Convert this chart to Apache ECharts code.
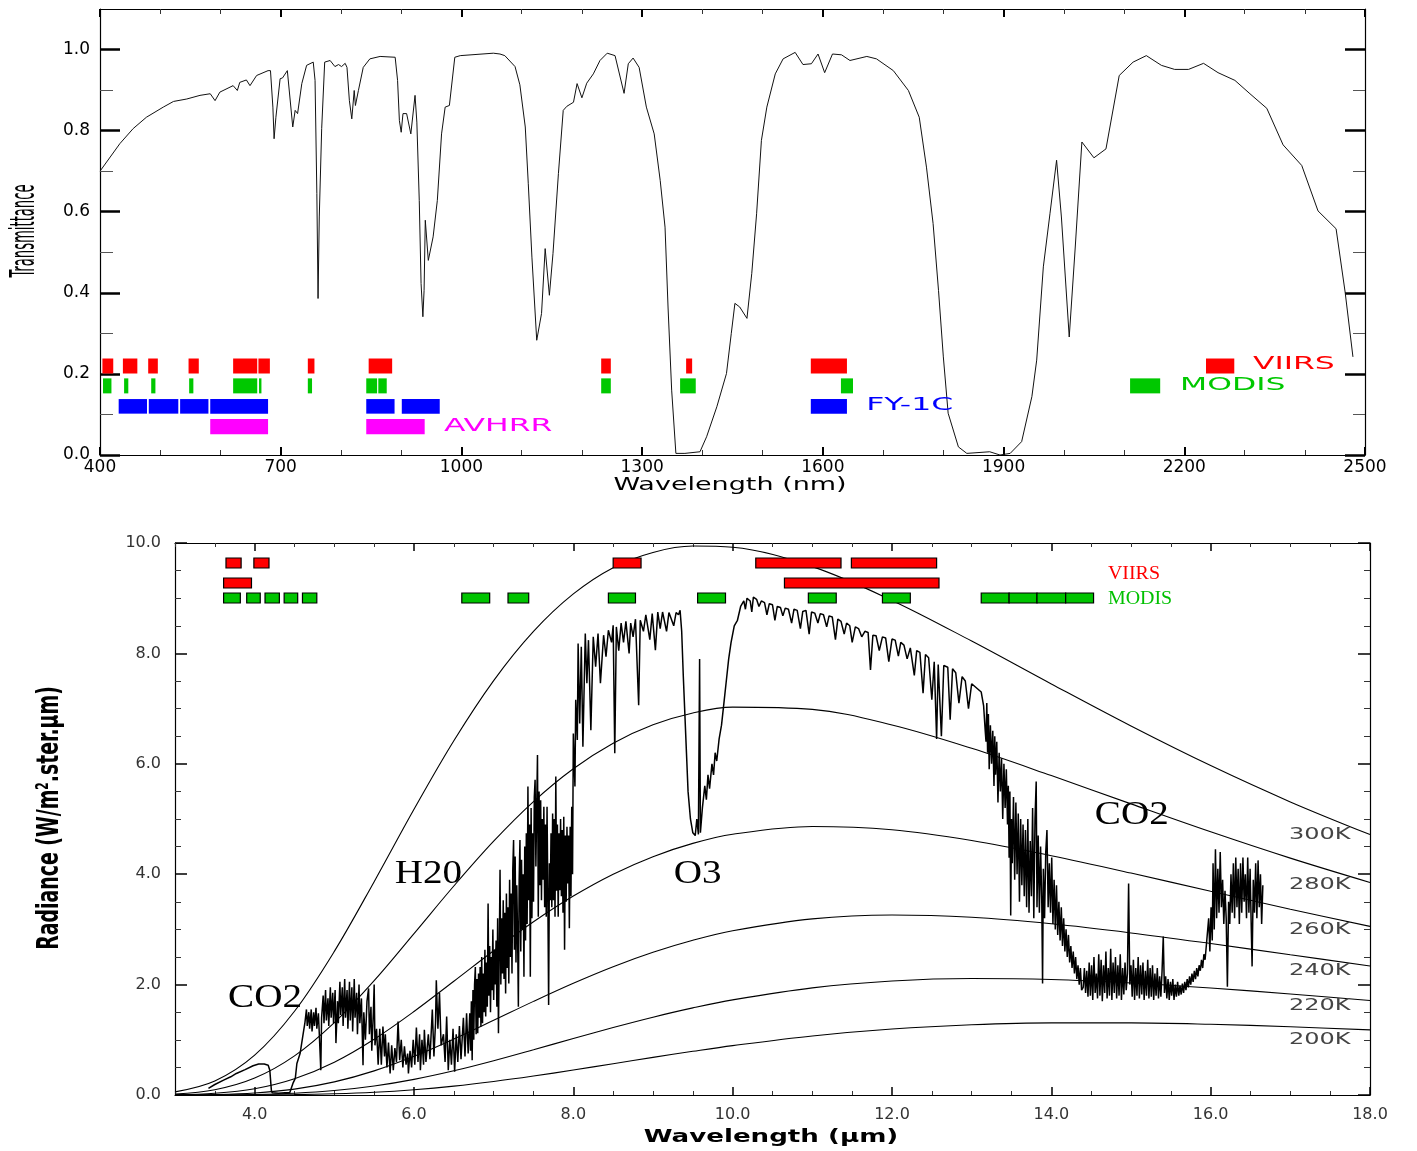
<!DOCTYPE html>
<html><head><meta charset="utf-8">
<script src="https://cdn.jsdelivr.net/npm/echarts@6/dist/echarts.min.js"></script>
<style>html,body{margin:0;padding:0;height:100%;overflow:hidden;background:#fff}#c{width:100%;height:100%}</style>
</head><body><div id="c"></div>
<script>
// ---------------- DATA ----------------
// Top panel: atmospheric transmittance vs wavelength (nm)
const transmittance = [[400,0.700],[433,0.768],[455,0.805],[477,0.833],[505,0.858],[522,0.872],[544,0.878],[566,0.887],[583,0.891],[591,0.874],[599,0.895],[621,0.911],[628,0.899],[632,0.919],[643,0.925],[649,0.911],[660,0.936],[679,0.948],[683,0.948],[687,0.858],[689,0.780],[692,0.833],[699,0.928],[703,0.930],[711,0.948],[714,0.944],[720,0.809],[724,0.850],[728,0.842],[735,0.916],[743,0.961],[754,0.969],[757,0.924],[760,0.645],[762,0.386],[764,0.587],[768,0.805],[773,0.969],[782,0.973],[790,0.958],[796,0.963],[801,0.958],[807,0.966],[810,0.956],[814,0.874],[818,0.829],[822,0.899],[824,0.862],[829,0.899],[837,0.956],[848,0.977],[865,0.983],[890,0.981],[894,0.924],[897,0.825],[900,0.796],[903,0.842],[909,0.842],[916,0.792],[923,0.887],[926,0.821],[930,0.628],[933,0.423],[936,0.341],[938,0.406],[940,0.579],[945,0.480],[953,0.538],[960,0.628],[967,0.792],[973,0.858],[980,0.862],[989,0.981],[998,0.985],[1053,0.991],[1064,0.989],[1072,0.985],[1089,0.958],[1097,0.913],[1106,0.809],[1111,0.669],[1117,0.488],[1125,0.283],[1133,0.349],[1139,0.509],[1146,0.394],[1152,0.497],[1161,0.694],[1169,0.850],[1175,0.860],[1186,0.870],[1192,0.916],[1200,0.881],[1208,0.917],[1219,0.940],[1230,0.973],[1242,0.991],[1255,0.985],[1270,0.892],[1277,0.965],[1285,0.979],[1295,0.956],[1307,0.858],[1320,0.792],[1330,0.677],[1338,0.562],[1343,0.365],[1349,0.160],[1356,0.004],[1371,0.004],[1396,0.008],[1407,0.045],[1424,0.119],[1440,0.201],[1448,0.300],[1454,0.374],[1462,0.365],[1474,0.337],[1482,0.448],[1490,0.595],[1498,0.776],[1507,0.858],[1521,0.940],[1534,0.977],[1554,0.993],[1567,0.963],[1581,0.965],[1592,0.989],[1603,0.943],[1616,0.989],[1631,0.987],[1645,0.973],[1673,0.983],[1689,0.977],[1717,0.948],[1742,0.899],[1760,0.833],[1772,0.710],[1783,0.571],[1792,0.406],[1800,0.242],[1808,0.103],[1825,0.020],[1839,0.004],[1877,0.008],[1894,0.000],[1911,0.004],[1930,0.033],[1947,0.144],[1955,0.234],[1966,0.464],[1977,0.595],[1988,0.727],[1996,0.587],[2009,0.291],[2019,0.513],[2030,0.772],[2050,0.733],[2070,0.755],[2092,0.936],[2115,0.969],[2137,0.985],[2162,0.961],[2184,0.951],[2207,0.951],[2232,0.966],[2256,0.943],[2284,0.924],[2309,0.891],[2337,0.855],[2364,0.765],[2395,0.714],[2422,0.602],[2452,0.558],[2467,0.402],[2480,0.242]];

// Top panel sensor bands (nm): [start, end]
const viirsBandsNm = [[404,422],[438,462],[480,496],[547,564],[621,661],[663,682],[745,756],[846,885],[1232,1248],[1373,1383],[1580,1640],[2236,2283]];
const modisBandsNm = [[405,419],[440,447],[485,492],[548,555],[621,661],[664,668],[745,752],[842,860],[862,876],[1232,1248],[1363,1389],[1630,1650],[2110,2160]];
const fy1cBandsNm  = [[431,478],[481,530],[533,580],[583,679],[842,889],[901,964],[1580,1640]];
const avhrrBandsNm = [[583,679],[842,939]];

// Bottom panel sensor bands (micrometres)
const viirsBandsUmA = [[3.64,3.83],[3.99,4.18],[8.50,8.85],[10.29,11.36],[11.49,12.56]];
const viirsBandsUmB = [[3.61,3.96],[10.65,12.59]];
const modisBandsUm  = [[3.61,3.82],[3.90,4.07],[4.13,4.31],[4.37,4.54],[4.60,4.78],[6.60,6.95],[7.18,7.44],[8.44,8.78],[9.56,9.91],[10.95,11.30],[11.88,12.23],[13.12,13.47],[13.47,13.82],[13.82,14.18],[14.18,14.53]];

// Blackbody reference curves
const planckWl = [3,3.5,4,4.5,5,5.5,6,6.5,7,7.5,8,8.5,9,9.5,10,11,12,13,14,15,16,17,18];
const bb300 = [0.056,0.254,0.722,1.517,2.602,3.865,5.176,6.418,7.508,8.399,9.078,9.553,9.829,9.945,9.922,9.572,8.960,8.223,7.446,6.684,5.967,5.310,4.718];
const bb280 = [0.018,0.095,0.307,0.709,1.312,2.072,2.924,3.786,4.598,5.315,5.910,6.373,6.706,6.920,7.027,6.986,6.703,6.280,5.787,5.274,4.768,4.291,3.850];
const bb260 = [0.005,0.031,0.114,0.295,0.595,1.011,1.513,2.061,2.614,3.138,3.604,4.000,4.318,4.558,4.724,4.864,4.804,4.610,4.335,4.021,3.691,3.365,3.055];
const bb240 = [0.001,0.008,0.036,0.106,0.237,0.437,0.701,1.014,1.353,1.696,2.024,2.324,2.585,2.802,2.975,3.191,3.261,3.219,3.101,2.936,2.744,2.541,2.338];
const bb220 = [0.000,0.002,0.009,0.032,0.080,0.162,0.283,0.438,0.621,0.820,1.024,1.223,1.410,1.578,1.723,1.941,2.065,2.110,2.092,2.030,1.939,1.829,1.711];
const bb200 = [0.000,0.000,0.002,0.007,0.022,0.049,0.095,0.160,0.244,0.343,0.452,0.567,0.682,0.792,0.895,1.070,1.195,1.272,1.307,1.307,1.281,1.236,1.180];
const tempNames = ['300K','280K','260K','240K','220K','200K'];

// Measured radiance spectrum [wavelength um, radiance]
const radiance = [[3.42,0.12],[3.50,0.19],[3.61,0.27],[3.70,0.33],[3.77,0.39],[3.88,0.46],[3.98,0.53],[4.05,0.56],[4.12,0.56],[4.17,0.54],[4.19,0.45],[4.21,0.08],[4.22,0.04],[4.30,0.03],[4.38,0.04],[4.44,0.04],[4.48,0.21],
[4.51,0.30],[4.53,0.57],[4.57,0.75],[4.61,1.12],[4.63,1.30],[4.65,1.55],[4.66,1.25],[4.68,1.50],[4.69,1.20],[4.71,1.55],[4.72,1.15],[4.74,1.50],[4.75,1.25],[4.77,1.58],[4.78,1.20],[4.80,1.48],[4.81,1.15],[4.83,0.45],[4.84,1.40],[4.86,1.80],[4.87,1.30],[4.89,1.90],[4.90,1.35],[4.92,1.75],[4.93,1.25],[4.95,1.95],[4.96,1.40],[4.98,1.85],[4.99,1.30],[5.01,1.90],[5.02,0.94],[5.04,1.70],[5.05,1.30],[5.07,2.05],[5.08,1.45],[5.10,1.95],[5.11,1.25],[5.13,2.10],[5.14,1.40],[5.16,1.90],[5.17,1.20],[5.19,2.05],[5.20,1.35],[5.22,1.95],[5.23,1.15],[5.25,2.10],[5.26,1.40],[5.28,1.85],[5.29,1.10],[5.31,2.00],[5.32,1.30],[5.34,1.75],[5.36,0.54],[5.37,1.50],[5.39,1.00],[5.41,1.70],[5.43,1.93],[5.44,1.10],[5.46,1.60],[5.47,0.80],[5.49,1.50],[5.50,2.00],[5.51,0.90],[5.53,1.20],[5.55,0.55],
[5.57,1.20],[5.59,0.55],[5.61,1.24],[5.63,0.70],[5.64,1.10],[5.66,0.50],[5.68,0.95],[5.70,0.39],[5.72,0.90],[5.74,0.45],[5.76,0.85],[5.78,0.60],[5.80,1.33],[5.82,0.63],[5.84,1.00],[5.86,0.50],[5.88,0.88],[5.90,0.55],[5.92,0.75],[5.93,0.39],[5.95,0.80],[5.97,0.50],[5.99,1.00],[6.01,0.55],[6.03,1.22],[6.05,0.60],[6.07,1.10],[6.08,0.45],[6.10,1.00],[6.12,0.55],[6.13,1.18],[6.15,0.60],[6.18,1.10],[6.20,0.65],[6.23,1.55],[6.25,0.70],[6.27,1.30],[6.28,2.08],[6.30,1.20],[6.32,1.85],[6.34,0.90],[6.37,1.10],[6.39,0.60],[6.41,1.42],[6.43,0.45],[6.45,1.00],[6.47,0.55],[6.49,1.20],[6.51,0.42],[6.53,1.10],[6.55,0.60],[6.57,1.25],[6.59,0.65],[6.62,1.40],[6.64,0.70],[6.66,1.48],[6.68,0.75],
[6.70,1.48],[6.71,0.80],[6.72,1.70],[6.73,0.63],[6.74,1.90],[6.75,1.00],[6.76,2.00],[6.77,2.32],[6.78,1.10],[6.79,2.10],[6.80,1.12],[6.81,2.20],[6.82,1.40],[6.83,2.32],[6.84,1.24],[6.85,2.50],[6.86,1.30],[6.87,2.20],[6.88,1.50],[6.89,2.63],[6.90,1.42],[6.91,2.40],[6.92,1.60],[6.93,3.47],[6.94,1.80],[6.95,2.70],[6.96,1.50],[6.97,2.50],[6.98,1.90],[6.99,3.00],[7.00,1.72],[7.01,2.63],[7.02,2.00],[7.03,2.80],[7.04,1.60],[7.05,3.20],[7.06,1.12],[7.07,2.60],[7.08,4.08],[7.09,2.00],[7.10,3.20],[7.11,2.20],[7.12,3.53],[7.13,2.10],[7.14,3.30],[7.15,1.84],[7.16,3.65],[7.17,2.30],[7.18,3.40],[7.19,2.02],[7.20,3.90],[7.21,2.50],[7.22,3.65],[7.23,2.20],[7.24,4.10],[7.25,4.62],[7.26,2.63],[7.27,4.32],[7.28,2.40],[7.29,3.80],[7.30,2.93],[7.31,1.60],[7.32,3.90],[7.33,4.62],[7.34,2.60],[7.35,4.26],[7.36,3.00],[7.37,4.00],[7.38,2.14],[7.39,4.50],[7.40,2.80],[7.41,4.74],[7.42,3.10],[7.43,5.59],[7.44,3.53],[7.45,4.90],[7.46,2.14],[7.47,5.20],[7.48,3.20],[7.49,4.74],[7.50,3.50],[7.51,5.40],[7.52,5.71],[7.53,4.14],[7.54,5.20],[7.55,6.16],[7.56,3.23],[7.57,5.50],[7.58,3.80],[7.59,5.34],[7.60,3.53],[7.61,5.00],[7.62,3.90],[7.63,5.22],[7.64,3.40],[7.65,4.90],[7.66,3.23],[7.67,5.22],[7.68,3.60],[7.69,1.63],[7.70,4.20],[7.71,3.53],[7.72,4.74],[7.73,3.40],[7.74,5.10],[7.75,3.53],[7.76,5.00],[7.77,3.23],[7.78,5.77],[7.79,3.70],[7.80,4.90],[7.81,3.23],[7.82,4.74],[7.83,3.71],[7.84,5.00],[7.85,3.60],[7.86,4.80],[7.87,3.30],[7.88,5.04],[7.89,2.63],[7.90,4.70],[7.91,3.50],[7.92,4.86],[7.93,3.83],[7.94,4.70],[7.95,3.02],[7.96,4.86],[7.97,3.60],[7.98,5.22],[7.99,4.00],
[8.00,6.55],[8.02,5.59],[8.03,7.16],[8.05,6.43],[8.06,8.18],[8.08,6.73],[8.10,8.12],[8.12,6.31],[8.15,8.36],[8.17,7.46],[8.19,8.24],[8.22,6.61],[8.25,8.30],[8.28,7.76],[8.31,8.36],[8.34,7.46],[8.38,8.33],[8.41,7.94],[8.44,8.42],[8.48,8.20],[8.50,8.51],[8.52,6.19],[8.54,8.48],[8.57,8.05],[8.60,8.55],[8.63,8.20],[8.66,8.58],[8.70,8.00],[8.72,8.55],[8.75,8.30],[8.78,8.62],[8.82,7.06],[8.84,8.60],[8.88,8.40],[8.91,8.70],[8.96,8.25],[8.99,8.72],[9.03,8.06],[9.06,8.75],[9.09,8.45],[9.12,8.75],[9.17,8.40],[9.20,8.74],[9.26,8.50],[9.29,8.74],[9.32,8.70],
[9.34,8.78],[9.36,8.40],[9.38,7.60],[9.40,6.90],[9.42,6.20],[9.44,5.50],[9.47,5.00],[9.50,4.75],[9.53,4.70],[9.55,5.00],[9.57,4.72],[9.585,7.90],[9.595,4.75],[9.62,5.20],[9.65,5.60],[9.67,5.35],[9.69,5.80],[9.71,5.55],[9.74,6.00],[9.76,5.80],[9.78,6.20],[9.80,6.05],[9.83,6.45],[9.86,6.70],[9.89,7.10],[9.92,7.50],[9.95,7.90],[9.98,8.20],[10.02,8.50],[10.06,8.60],
[10.10,8.85],[10.14,8.95],[10.16,8.80],[10.18,9.00],[10.22,8.95],[10.24,8.75],[10.26,9.02],[10.30,8.98],[10.33,8.85],[10.36,8.95],[10.40,8.92],[10.43,8.70],[10.46,8.90],[10.50,8.88],[10.53,8.60],[10.56,8.85],[10.60,8.83],[10.63,8.68],[10.66,8.82],[10.70,8.80],[10.74,8.55],[10.77,8.80],[10.81,8.78],[10.85,8.45],[10.88,8.76],[10.92,8.78],[10.96,8.35],[10.99,8.75],[11.03,8.73],[11.07,8.55],[11.10,8.72],[11.14,8.70],[11.18,8.48],[11.21,8.68],[11.25,8.66],[11.29,8.25],[11.32,8.62],[11.36,8.58],[11.40,8.35],[11.43,8.55],[11.47,8.50],[11.50,8.20],[11.54,8.48],[11.58,8.45],[11.62,8.30],[11.66,8.40],[11.70,8.38],[11.73,7.70],[11.76,8.33],[11.80,8.32],[11.84,8.05],[11.88,8.30],[11.92,8.28],[11.96,7.85],[12.00,8.26],[12.04,8.24],[12.08,7.95],[12.11,8.20],[12.15,8.15],[12.19,7.90],[12.23,8.10],[12.28,7.60],[12.31,8.05],[12.35,8.02],[12.39,7.28],[12.42,7.98],[12.46,7.92],[12.50,7.16],[12.53,7.85],[12.56,6.45],[12.58,7.80],[12.62,6.50],[12.65,7.78],[12.70,7.75],[12.73,6.80],[12.76,7.72],[12.80,7.65],[12.84,7.10],[12.88,7.58],[12.92,7.50],[12.96,7.00],[13.00,7.45],[13.04,7.40],[13.08,7.35],[13.12,7.30],
[13.15,7.05],[13.17,6.60],[13.18,6.40],[13.19,7.10],[13.20,6.20],[13.21,6.90],[13.22,5.90],[13.235,6.70],[13.25,6.00],[13.265,6.60],[13.28,5.60],[13.29,6.50],[13.30,5.80],[13.315,6.40],[13.33,5.30],[13.345,6.20],[13.36,5.50],[13.375,6.10],[13.39,5.00],[13.405,6.00],[13.42,5.20],[13.435,5.90],[13.45,4.90],[13.46,5.60],[13.47,4.30],[13.48,5.50],[13.49,3.25],[13.50,5.00],[13.51,4.20],[13.525,5.40],[13.54,3.90],[13.555,5.30],[13.57,4.00],[13.585,5.10],[13.60,3.50],[13.615,5.00],[13.63,3.80],[13.645,4.90],[13.66,3.60],[13.675,4.80],[13.69,3.40],[13.705,5.00],[13.72,3.30],[13.735,4.60],[13.75,3.60],[13.765,5.20],[13.78,3.20],[13.795,5.00],[13.81,5.68],[13.82,3.40],[13.835,4.70],[13.85,3.30],[13.865,4.50],[13.88,3.50],[13.89,2.02],[13.90,4.10],[13.915,3.20],[13.93,4.40],[13.945,4.80],[13.96,3.40],[13.975,4.20],[13.99,3.30],[14.005,4.30],[14.02,3.10],[14.035,3.90],[14.05,3.00],[14.065,3.80],[14.08,2.90],[14.095,3.50],[14.11,2.80],[14.125,3.40],[14.14,2.70],[14.155,3.20],[14.17,2.60],[14.185,3.00],[14.20,2.50],[14.215,2.90],[14.23,2.40],[14.245,2.70],[14.26,2.30],[14.275,2.60],[14.29,2.20],[14.305,2.50],[14.32,2.10],[14.335,2.35],[14.35,2.00],[14.365,2.30],[14.38,1.90],
[14.400,1.95],[14.415,2.30],[14.430,1.85],[14.445,2.25],[14.460,1.78],[14.475,2.40],[14.490,1.80],[14.505,2.35],[14.520,1.72],[14.535,2.50],[14.550,1.85],[14.565,2.20],[14.580,1.75],[14.595,2.55],[14.610,1.80],[14.625,2.45],[14.640,1.70],[14.655,2.35],[14.670,1.85],[14.685,2.60],[14.700,1.75],[14.715,2.30],[14.730,1.80],[14.745,2.65],[14.760,1.72],[14.775,2.40],[14.790,1.85],[14.805,2.50],[14.820,1.75],[14.835,2.35],[14.850,1.80],[14.865,2.55],[14.880,1.72],[14.895,2.30],[14.910,1.82],[14.925,2.40],[14.940,1.90],[14.955,2.20],[14.970,3.83],[14.985,2.00],[15.000,2.35],[15.015,1.78],[15.030,2.45],[15.045,1.72],[15.060,2.30],[15.075,1.80],[15.090,2.50],[15.105,1.75],[15.120,2.35],[15.135,1.82],[15.150,2.40],[15.165,1.72],[15.180,2.25],[15.195,1.80],[15.210,2.45],[15.225,1.75],[15.240,2.30],[15.255,1.78],[15.270,2.35],[15.285,1.72],[15.300,2.20],[15.315,1.80],[15.330,2.30],[15.345,1.75],[15.360,2.15],[15.375,1.78],[15.390,2.25],[15.405,2.87],[15.420,1.85],[15.435,2.15],[15.450,1.75],[15.465,2.10],[15.480,1.72],[15.495,2.05],[15.510,1.80],[15.525,2.10],[15.540,1.72],[15.555,2.00],[15.570,1.78],[15.585,2.05],[15.600,1.80],[15.615,1.98],[15.630,1.82],[15.645,2.02],[15.660,1.85],[15.675,2.05],[15.690,1.90],[15.705,2.10],[15.720,1.95],[15.735,2.15],[15.750,2.00],[15.765,2.20],[15.780,2.05],[15.795,2.25],[15.810,2.10],[15.825,2.30],[15.840,2.15],[15.855,2.35],[15.870,2.25],[15.885,2.45],[15.900,2.30],[15.915,2.55],[15.930,2.45],[15.945,2.70],
[15.96,2.70],[15.975,3.20],[15.99,2.60],[16.005,3.40],[16.02,2.80],[16.03,4.20],[16.045,3.00],[16.06,4.45],[16.075,3.20],[16.09,4.10],[16.105,3.30],[16.12,4.40],[16.135,3.40],[16.15,3.90],[16.165,3.10],[16.18,3.70],[16.195,3.20],[16.21,1.96],[16.225,3.50],[16.24,3.10],[16.255,4.00],[16.27,3.30],[16.285,4.20],[16.30,3.20],[16.315,4.30],[16.33,3.40],[16.345,4.10],[16.36,3.10],[16.375,4.20],[16.39,3.30],[16.405,4.30],[16.42,3.50],[16.435,4.00],[16.45,3.20],[16.465,4.30],[16.48,3.30],[16.495,4.10],[16.51,3.00],[16.52,2.33],[16.535,3.90],[16.55,3.30],[16.565,4.20],[16.58,3.20],[16.595,4.25],[16.61,3.40],[16.625,4.00],[16.64,3.10],[16.655,3.80]];

// Tick labels
const topXLabels = [400,700,1000,1300,1600,1900,2200,2500];
const topYLabels = [0.0,0.2,0.4,0.6,0.8,1.0];
const botXLabels = [4,6,8,10,12,14,16,18];
const botYLabels = [0,2,4,6,8,10];

// ---------------- CHART ----------------
const SANS = 'DejaVu Sans';
const SERIF = 'Liberation Serif';
const NARROW = "'Liberation Sans Narrow','DejaVu Sans Condensed','Liberation Sans',Arial,sans-serif";

function stepVals(a, b, s, skip) {
  const out = [];
  for (let i = 0; a + i * s <= b + 1e-9; i++) {
    const v = +(a + i * s).toFixed(4);
    if (!skip || !skip.some(k => Math.abs(k - v) < 1e-6)) out.push(v);
  }
  return out;
}

function axis(grid, position, min, max, ticks, len, width, color, extra) {
  return Object.assign({
    type: 'value', gridIndex: grid, position: position, min: min, max: max,
    axisLine: {show: false, onZero: false, lineStyle: {color: '#000', width: 1}},
    axisTick: {show: true, inside: true, length: len, customValues: ticks, lineStyle: {color: color, width: width}},
    axisLabel: {show: false},
    splitLine: {show: false}
  }, extra || {});
}
const LINE = {show: true, onZero: false, lineStyle: {color: '#000', width: 1.2}};

const topXMinor = stepVals(400, 2500, 100, topXLabels);
const topYMinor = stepVals(0.1, 1.0, 0.2);
const botXMinor = stepVals(3, 18, 0.5, botXLabels);
const botYMinor = stepVals(0, 10, 0.5, botYLabels);

const xAxes = [
  axis(0, 'bottom', 400, 2500, topXLabels, 8, 2, '#000', {
    axisLine: LINE,
    axisLabel: {show: true, customValues: topXLabels, margin: 4, fontFamily: SANS, fontSize: 17, color: '#000',
      formatter: v => String(Math.round(v))}
  }),
  axis(0, 'bottom', 400, 2500, topXMinor, 5, 1, '#333'),
  axis(0, 'top', 400, 2500, topXLabels, 8, 2, '#000', {axisLine: LINE}),
  axis(0, 'top', 400, 2500, topXMinor, 5, 1, '#333'),
  axis(1, 'bottom', 3, 18, botXLabels, 8, 1.5, '#000', {
    axisLine: LINE,
    axisLabel: {show: true, customValues: botXLabels, margin: 12, fontFamily: SANS, fontSize: 16, color: '#333',
      formatter: v => v.toFixed(1)}
  }),
  axis(1, 'bottom', 3, 18, botXMinor, 4, 1, '#333'),
  axis(1, 'top', 3, 18, botXLabels, 8, 1.5, '#000', {axisLine: LINE}),
  axis(1, 'top', 3, 18, botXMinor, 4, 1, '#333')
];

const yAxes = [
  axis(0, 'left', 0, 1.1, topYLabels, 20, 2.5, '#000', {
    axisLine: LINE,
    axisLabel: {show: true, customValues: topYLabels, margin: 10, fontFamily: SANS, fontSize: 17, color: '#000',
      formatter: v => v.toFixed(1)}
  }),
  axis(0, 'left', 0, 1.1, topYMinor, 13, 1, '#555'),
  axis(0, 'right', 0, 1.1, topYLabels, 20, 2.5, '#000', {axisLine: LINE}),
  axis(0, 'right', 0, 1.1, topYMinor, 12, 1, '#555'),
  axis(1, 'left', 0, 10, botYLabels, 12, 1.5, '#000', {
    axisLine: LINE,
    axisLabel: {show: true, customValues: botYLabels, margin: 14, fontFamily: SANS, fontSize: 16, color: '#333',
      formatter: v => v.toFixed(1)}
  }),
  axis(1, 'left', 0, 10, botYMinor, 6, 1, '#333'),
  axis(1, 'right', 0, 10, botYLabels, 12, 1.5, '#000', {axisLine: LINE}),
  axis(1, 'right', 0, 10, botYMinor, 6, 1, '#333')
];

function bandSeries(bands, xi, yi, yTop, yBot, color, stroke) {
  return {
    type: 'custom', xAxisIndex: xi, yAxisIndex: yi, silent: true, z: 5,
    data: bands.map(b => [b[0], b[1]]),
    encode: {x: [0, 1]},
    renderItem: (params, api) => {
      const a = api.coord([api.value(0), yTop]);
      const b = api.coord([api.value(1), yBot]);
      return {type: 'rect', shape: {x: a[0], y: a[1], width: b[0] - a[0], height: b[1] - a[1]},
        style: stroke ? {fill: color, stroke: stroke, lineWidth: 1.2} : {fill: color}};
    }
  };
}

function textSeries(items, xi, yi, font, sx) {
  // items: [text, x, y, color]
  return {
    type: 'custom', xAxisIndex: xi, yAxisIndex: yi, silent: true, z: 10,
    data: items.map(t => [t[1], t[2]]),
    encode: {x: 0, y: 1},
    renderItem: (params, api) => {
      const it = items[params.dataIndex];
      const p = api.coord([api.value(0), api.value(1)]);
      return {type: 'text', x: p[0], y: p[1], scaleX: sx || 1,
        style: Object.assign({text: it[0], fill: it[3], verticalAlign: 'middle'}, font)};
    }
  };
}

const bbSets = [bb300, bb280, bb260, bb240, bb220, bb200];

const series = [
  {type: 'line', xAxisIndex: 0, yAxisIndex: 0, data: transmittance, showSymbol: false, z: 3,
   lineStyle: {color: '#111', width: 1}},
  bandSeries(viirsBandsNm, 0, 0, 0.238, 0.201, '#ff0000'),
  bandSeries(modisBandsNm, 0, 0, 0.189, 0.152, '#00c800'),
  bandSeries(fy1cBandsNm, 0, 0, 0.138, 0.102, '#0000ff'),
  bandSeries(avhrrBandsNm, 0, 0, 0.089, 0.051, '#ff00ff'),
  textSeries([['VIIRS', 2314, 0.222, '#ff0000'], ['MODIS', 2193, 0.170, '#00c800'],
              ['FY-1C', 1672, 0.121, '#0000ff'], ['AVHRR', 971, 0.069, '#ff00ff']], 0, 0,
             {fontFamily: SANS, fontSize: 17, align: 'left'}, 1.85),
  ...bbSets.map(v => ({type: 'line', xAxisIndex: 4, yAxisIndex: 4, showSymbol: false, smooth: 0.35, z: 2,
    data: planckWl.map((w, i) => [w, v[i]]), lineStyle: {color: '#000', width: 1.1}})),
  {type: 'line', xAxisIndex: 4, yAxisIndex: 4, data: radiance, showSymbol: false, z: 4,
   lineStyle: {color: '#000', width: 1.5}},
  bandSeries(viirsBandsUmA, 4, 4, 9.728, 9.547, '#ff0000', '#000'),
  bandSeries(viirsBandsUmB, 4, 4, 9.366, 9.185, '#ff0000', '#000'),
  bandSeries(modisBandsUm, 4, 4, 9.094, 8.913, '#00c400', '#000'),
  textSeries([['VIIRS', 14.71, 9.44, '#ff0000'], ['MODIS', 14.71, 8.99, '#00c000']], 4, 4,
             {fontFamily: SERIF, fontSize: 19, align: 'left'}, 1.05),
  textSeries([['CO2', 4.13, 1.76, '#000'], ['H20', 6.18, 4.0, '#000'], ['O3', 9.56, 4.0, '#000'],
              ['CO2', 15.01, 5.07, '#000']], 4, 4,
             {fontFamily: SERIF, fontSize: 34, align: 'center'}, 1.15),
  textSeries(tempNames.map((n, i) => [n, 17.37, [4.71, 3.80, 2.99, 2.25, 1.61, 1.00][i], '#444']), 4, 4,
             {fontFamily: SANS, fontSize: 16, align: 'center'}, 1.5)
];

const chart = echarts.init(document.getElementById('c'), null, {renderer: 'canvas'});
const H = chart.getHeight();
const sy = H / 1151;
const pct = v => (v / 1151 * 100).toFixed(3) + '%';

chart.setOption({
  animation: false,
  backgroundColor: '#fff',
  grid: [
    {left: 100, top: pct(9), width: 1265, height: pct(446), containLabel: false},
    {left: 175, top: pct(543), width: 1195, height: pct(552), containLabel: false}
  ],
  xAxis: xAxes,
  yAxis: yAxes,
  series: series,
  graphic: [
    {type: 'text', x: 25, y: 231 * sy, rotation: Math.PI / 2, scaleX: 0.43, silent: true,
     style: {text: 'Transmittance', fontFamily: NARROW, fontSize: 34, fill: '#000', align: 'center', verticalAlign: 'middle'}},
    {type: 'text', x: 50, y: 818 * sy, rotation: Math.PI / 2, scaleX: 0.7, silent: true,
     style: {text: 'Radiance (W/m{sup|2}.ster.\u00b5m)', fontFamily: NARROW, fontSize: 30, fontWeight: 'bold', fill: '#000',
       align: 'center', verticalAlign: 'middle',
       rich: {sup: {fontFamily: NARROW, fontSize: 17, fontWeight: 'bold', verticalAlign: 'top', lineHeight: 30, padding: [0, 0, 12, 0]}}}},
    {type: 'text', x: 730, y: 485 * sy, scaleX: 1.5, silent: true,
     style: {text: 'Wavelength (nm)', fontFamily: SANS, fontSize: 18, fill: '#000', align: 'center', verticalAlign: 'middle'}},
    {type: 'text', x: 771, y: 1137 * sy, scaleX: 1.45, silent: true,
     style: {text: 'Wavelength (\u00b5m)', fontFamily: SANS, fontSize: 18, fontWeight: 'bold', fill: '#000', align: 'center', verticalAlign: 'middle'}}
  ]
});
</script></body></html>
